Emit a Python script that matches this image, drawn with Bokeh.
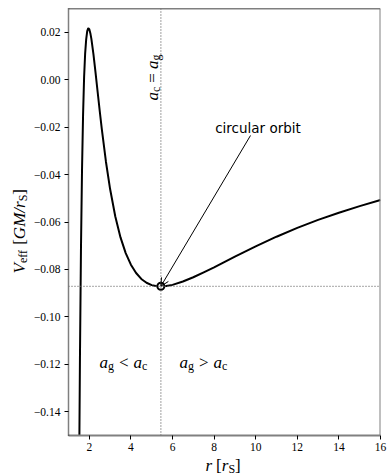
import math
from bokeh.plotting import figure
from bokeh.layouts import row, column
from bokeh.models import (Range1d, FixedTicker, CustomJSTickFormatter, Span, Label,
                          Arrow, OpenHead)
from bokeh.embed import file_html
from bokeh.resources import INLINE

# ---- data ----
r_vals = [1.52, 1.55, 1.60, 1.65, 1.70, 1.75, 1.80, 1.85, 1.90, 1.95, 2.00, 2.05, 2.10,
          2.20, 2.30, 2.40, 2.50, 2.60, 2.80, 3.00, 3.25, 3.50, 3.75, 4.00, 4.25, 4.50,
          4.75, 5.00, 5.20, 5.44, 5.70, 6.00, 6.50, 7.00, 7.50, 8.00, 9.00, 10.0, 11.0,
          12.0, 13.0, 14.0, 15.0, 16.0]
v_eff = [-0.155, -0.118, -0.071, -0.038, -0.015, 0.001, 0.011, 0.017, 0.0205, 0.0217,
         0.0213, 0.0196, 0.0172, 0.0107, 0.0030, -0.0051, -0.0131, -0.0207, -0.0346,
         -0.0461, -0.0577, -0.0665, -0.0731, -0.0780, -0.0815, -0.0840, -0.0856,
         -0.0866, -0.0870, -0.0871, -0.0870, -0.0865, -0.0851, -0.0833, -0.0812,
         -0.0791, -0.0746, -0.0703, -0.0662, -0.0625, -0.0591, -0.0561, -0.0533, -0.0507]
r_circ = [5.44]
v_circ = [-0.0871]
x_ticks = [2, 4, 6, 8, 10, 12, 14, 16]
y_ticks = [0.02, 0.0, -0.02, -0.04, -0.06, -0.08, -0.10, -0.12, -0.14]
x_lim = (1, 16)
y_lim = (-0.15, 0.03)

SERIF = "Liberation Serif"
GUIDE = "#6e6e6e"
TOP, BOTTOM = 8, 20

p = figure(width=357, height=455, output_backend="svg", toolbar_location=None,
           x_range=Range1d(*x_lim), y_range=Range1d(*y_lim),
           min_border_left=37, min_border_right=7, min_border_top=TOP,
           min_border_bottom=BOTTOM)
p.grid.visible = False
p.outline_line_color = None
p.background_fill_color = "white"
p.border_fill_color = "white"

for ax in (p.xaxis[0], p.yaxis[0]):
    ax.minor_tick_line_color = None
    ax.major_tick_out = 4
    ax.major_tick_in = 0
    ax.major_tick_line_color = "black"
    ax.major_tick_line_width = 1
    ax.major_label_text_font = SERIF
    ax.major_label_text_font_size = "11.5px"
    ax.major_label_text_color = "black"
p.yaxis.major_label_standoff = 4
p.xaxis.major_label_standoff = 3

p.xaxis.ticker = FixedTicker(ticks=x_ticks)
p.yaxis.ticker = FixedTicker(ticks=y_ticks)
p.yaxis.formatter = CustomJSTickFormatter(code="return tick.toFixed(2).replace('-', '\\u2212');")
p.yaxis.axis_line_color = "black"
p.yaxis.axis_line_width = 1.5
p.yaxis.axis_line_dash = "1 1"
p.xaxis.axis_line_color = "#808080"
p.xaxis.axis_line_width = 2

# top / right spines
p.add_layout(Span(location=y_lim[1], dimension="width", line_color="black", line_width=1.5))
p.add_layout(Span(location=x_lim[1], dimension="height", line_color="#808080", line_width=2))

# dotted guide lines through the circular orbit
p.add_layout(Span(location=r_circ[0], dimension="height", line_color=GUIDE,
                  line_width=1.3, line_dash="1 2"))
p.add_layout(Span(location=v_circ[0], dimension="width", line_color=GUIDE,
                  line_width=1.3, line_dash="1 2"))

p.line(r_vals, v_eff, line_width=2, line_color="black")
p.scatter(r_circ, v_circ, marker="circle", size=7, fill_color="white",
          line_color="black", line_width=2)

# ---- composite math-style labels ----
IT_W = {'V': .611, 'G': .722, 'M': .833, 'r': .389, 'a': .5, '/': .278}
RM_W = {'e': .444, 'f': .333, 'S': .556, 'g': .5, 'c': .444, '[': .333, ']': .333,
        '=': .564, '<': .564, '>': .564, ' ': .25}
MAIN, SUB = 17, 12


def text_w(t, italic, size):
    tab = IT_W if italic else RM_W
    return sum(tab.get(ch, .5) for ch in t) * size


def math_label(fig, pieces, x0, y0, vertical=False, sub_shift=3.5):
    off = 0.0
    for item in pieces:
        if item[0] == "gap":
            off += item[1]
            continue
        t, italic, sub = item
        size = SUB if sub else MAIN
        shift = sub_shift if sub else 0.0
        if vertical:
            x, y, ang = x0 + shift, y0 + off, math.pi / 2
        else:
            x, y, ang = x0 + off, y0 - shift, 0.0
        fig.add_layout(Label(x=x, y=y, x_units="screen", y_units="screen", text=t,
                             angle=ang, text_font=SERIF,
                             text_font_style="italic" if italic else "normal",
                             text_font_size=f"{size}px", text_align="left",
                             text_baseline="alphabetic", text_color="black"))
        off += text_w(t, italic, size)


def text_panel(w, h, top=0, bottom=0):
    f = figure(width=w, height=h, output_backend="svg", toolbar_location=None,
               title=None, x_range=Range1d(0, w), y_range=Range1d(0, h - top - bottom),
               x_axis_type=None, y_axis_type=None,
               min_border_left=0, min_border_right=0, min_border_top=top,
               min_border_bottom=bottom)
    f.outline_line_color = None
    f.background_fill_color = "white"
    f.border_fill_color = "white"
    return f


# y-axis label  V_eff [GM/r_S]  (own panel, left of the plot; frame aligned with the plot)
ylab = text_panel(30, 455, TOP, BOTTOM)
math_label(ylab, [("V", True, False), ("eff", False, True), ("gap", 5), ("[", False, False),
                  ("GM/r", True, False), ("S", False, True), ("]", False, False)],
           19, 162, vertical=True)

# x-axis label  r [r_S]  (own panel, below the plot)
xlab = text_panel(387, 20)
math_label(xlab, [("r", True, False), ("gap", 4), ("[", False, False), ("r", True, False),
                  ("S", False, True), ("]", False, False)], 205, 10, sub_shift=3)

# in-plot labels (screen units, relative to the frame)
math_label(p, [("a", True, False), ("c", False, True), ("gap", 4), ("=", False, False),
               ("gap", 4), ("a", True, False), ("g", False, True)], 84, 335, vertical=True)
math_label(p, [("a", True, False), ("g", False, True), ("gap", 5), ("<", False, False),
               ("gap", 5), ("a", True, False), ("c", False, True)], 31, 73.5)
math_label(p, [("a", True, False), ("g", False, True), ("gap", 5), (">", False, False),
               ("gap", 5), ("a", True, False), ("c", False, True)], 111, 73.5)

# annotation
p.add_layout(Label(x=189.5, y=307.5, x_units="screen", y_units="screen", text="circular orbit",
                   text_font="DejaVu Sans", text_font_size="13.5px", text_align="center",
                   text_baseline="alphabetic", text_color="black"))
p.add_layout(Arrow(x_start=182, y_start=300, start_units="screen",
                   x_end=r_circ[0], y_end=v_circ[0], end_units="data",
                   line_color="black", line_width=1,
                   end=OpenHead(size=8, line_width=1, line_color="black")))

layout = column(row(ylab, p), xlab)
open("out.html", "w").write(file_html(layout, INLINE))
